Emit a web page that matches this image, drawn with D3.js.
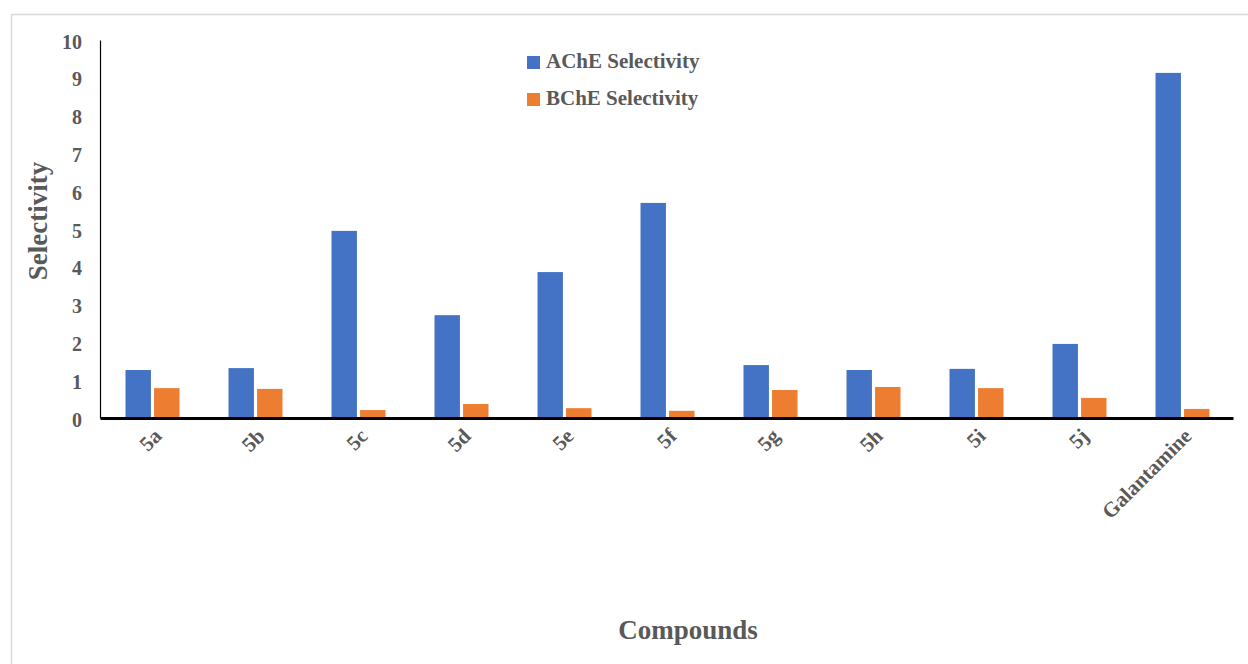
<!DOCTYPE html>
<html><head><meta charset="utf-8">
<script src="https://cdn.jsdelivr.net/npm/d3@7"></script>
<style>html,body{margin:0;padding:0;background:#fff;}svg{display:block;}</style>
</head><body>
<svg id="c" width="1248" height="664"></svg>
<script>
const categories = ["5a","5b","5c","5d","5e","5f","5g","5h","5i","5j","Galantamine"];
const acheValues = [1.27,1.32,4.95,2.72,3.86,5.69,1.40,1.27,1.30,1.96,9.13];
const bcheValues = [0.79,0.77,0.21,0.37,0.26,0.19,0.74,0.82,0.79,0.53,0.24];
const seriesNames = ["AChE Selectivity","BChE Selectivity"];
const yTicks = [0,1,2,3,4,5,6,7,8,9,10];

(function(){
const colors = ["#4472c4","#ed7d31"];
const textColor = "#595959";
const font = "'Liberation Serif','Times New Roman',serif";

const svg = d3.select("#c");
svg.append("rect").attr("x",11.5).attr("y",14.5).attr("width",1240).attr("height",660)
  .attr("fill","#fff").attr("stroke","#d9d9d9").attr("stroke-width",1.5);

const pl=100, pr=1233, pt=40, pb=418;
const x = d3.scaleBand().domain(categories).range([pl,pr]);
const y = d3.scaleLinear().domain([0,10]).range([pb,pt]);
const sub = d3.scaleBand().domain(seriesNames).range([0,54]).paddingInner(0.11);

const data = categories.map((c,i)=>({c, vals:[acheValues[i],bcheValues[i]]}));
const g = svg.append("g");
data.forEach(d=>{
  d.vals.forEach((v,j)=>{
    const cx = x(d.c)+x.bandwidth()/2-26;
    g.append("rect").attr("x",cx+sub(seriesNames[j])).attr("width",sub.bandwidth())
      .attr("y",y(v)).attr("height",y(0)-y(v)).attr("fill",colors[j]);
  });
});

const yAxis = svg.append("g").attr("transform",`translate(${pl},0)`)
  .call(d3.axisLeft(y).tickValues(yTicks).tickSize(0).tickPadding(18).tickFormat(d3.format("d")));
yAxis.select(".domain").attr("stroke","#000").attr("stroke-width",1.2);
yAxis.selectAll("text").attr("font-family",font).attr("font-weight","bold")
  .attr("font-size",20).attr("fill",textColor).attr("dy","0.4em");

const xAxis = svg.append("g").attr("transform",`translate(0,${pb})`)
  .call(d3.axisBottom(x).tickSize(0).tickFormat(""));
xAxis.select(".domain").attr("stroke","#000").attr("stroke-width",3);

svg.selectAll(".xl").data(categories).enter().append("text")
  .attr("transform",d=>`translate(${x(d)+x.bandwidth()/2+1},${pb+9}) rotate(-45)`)
  .attr("text-anchor","end").attr("dy","0.7em")
  .attr("font-family",font).attr("font-weight","bold").attr("font-size",21)
  .attr("fill",textColor).text(d=>d);

svg.append("text").attr("transform","translate(47,221) rotate(-90)")
  .attr("text-anchor","middle").attr("font-family",font).attr("font-weight","bold")
  .attr("font-size",27).attr("fill",textColor).text("Selectivity");
svg.append("text").attr("x",688).attr("y",639)
  .attr("text-anchor","middle").attr("font-family",font).attr("font-weight","bold")
  .attr("font-size",27).attr("fill",textColor).text("Compounds");

const leg = svg.append("g");
seriesNames.forEach((s,i)=>{
  const yy = 56+i*37;
  leg.append("rect").attr("x",527).attr("y",yy).attr("width",13).attr("height",13).attr("fill",colors[i]);
  leg.append("text").attr("x",546).attr("y",yy+12).attr("font-family",font).attr("font-weight","bold")
    .attr("font-size",21).attr("fill",textColor).text(s);
});
})();
</script>
</body></html>
